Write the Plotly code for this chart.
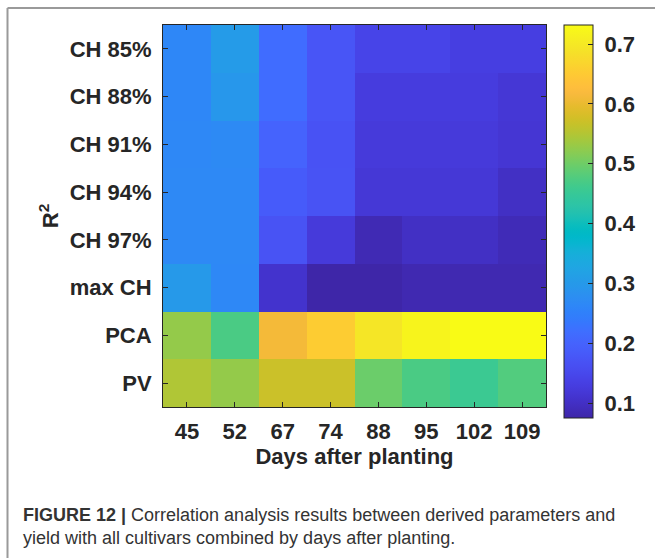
import plotly.graph_objects as go

days = ["45", "52", "67", "74", "88", "95", "102", "109"]
params = ["CH 85%", "CH 88%", "CH 91%", "CH 94%", "CH 97%", "max CH", "PCA", "PV"]

ch85 = [0.263, 0.305, 0.216, 0.174, 0.143, 0.143, 0.132, 0.132]
ch88 = [0.263, 0.294, 0.216, 0.174, 0.127, 0.127, 0.127, 0.117]
ch91 = [0.265, 0.270, 0.200, 0.168, 0.122, 0.122, 0.122, 0.115]
ch94 = [0.267, 0.267, 0.185, 0.170, 0.118, 0.118, 0.118, 0.100]
ch97 = [0.267, 0.267, 0.170, 0.122, 0.085, 0.100, 0.100, 0.088]
maxch = [0.300, 0.265, 0.108, 0.075, 0.075, 0.083, 0.083, 0.083]
pca = [0.527, 0.471, 0.612, 0.653, 0.695, 0.720, 0.732, 0.732]
pv = [0.548, 0.527, 0.570, 0.570, 0.497, 0.471, 0.456, 0.478]

z = [ch85, ch88, ch91, ch94, ch97, maxch, pca, pv]

colorbar_ticks = [0.1, 0.2, 0.3, 0.4, 0.5, 0.6, 0.7]

parula = [
    (0.2422, 0.1504, 0.6603), (0.2504, 0.1650, 0.7076), (0.2578, 0.1818, 0.7511),
    (0.2647, 0.1978, 0.7952), (0.2706, 0.2147, 0.8364), (0.2751, 0.2342, 0.8710),
    (0.2783, 0.2559, 0.8991), (0.2803, 0.2782, 0.9221), (0.2813, 0.3006, 0.9414),
    (0.2810, 0.3228, 0.9579), (0.2795, 0.3447, 0.9717), (0.2760, 0.3667, 0.9829),
    (0.2699, 0.3892, 0.9906), (0.2602, 0.4123, 0.9952), (0.2440, 0.4358, 0.9988),
    (0.2206, 0.4603, 0.9973), (0.1963, 0.4847, 0.9892), (0.1834, 0.5074, 0.9798),
    (0.1786, 0.5289, 0.9682), (0.1764, 0.5499, 0.9520), (0.1687, 0.5703, 0.9359),
    (0.1540, 0.5902, 0.9218), (0.1460, 0.6091, 0.9079), (0.1380, 0.6276, 0.8973),
    (0.1248, 0.6459, 0.8883), (0.1113, 0.6635, 0.8763), (0.0952, 0.6798, 0.8598),
    (0.0689, 0.6948, 0.8394), (0.0297, 0.7082, 0.8163), (0.0036, 0.7203, 0.7917),
    (0.0067, 0.7312, 0.7660), (0.0433, 0.7411, 0.7394), (0.0964, 0.7500, 0.7120),
    (0.1408, 0.7584, 0.6842), (0.1717, 0.7670, 0.6554), (0.1938, 0.7758, 0.6251),
    (0.2161, 0.7843, 0.5923), (0.2470, 0.7918, 0.5567), (0.2906, 0.7973, 0.5188),
    (0.3406, 0.8008, 0.4789), (0.3909, 0.8029, 0.4354), (0.4456, 0.8024, 0.3909),
    (0.5044, 0.7993, 0.3480), (0.5616, 0.7942, 0.3045), (0.6174, 0.7876, 0.2612),
    (0.6720, 0.7793, 0.2227), (0.7242, 0.7698, 0.1910), (0.7738, 0.7598, 0.1646),
    (0.8203, 0.7498, 0.1535), (0.8634, 0.7406, 0.1596), (0.9035, 0.7330, 0.1774),
    (0.9393, 0.7288, 0.2100), (0.9728, 0.7298, 0.2394), (0.9956, 0.7434, 0.2371),
    (0.9970, 0.7659, 0.2199), (0.9952, 0.7893, 0.2028), (0.9892, 0.8136, 0.1885),
    (0.9786, 0.8386, 0.1766), (0.9676, 0.8639, 0.1643), (0.9610, 0.8890, 0.1537),
    (0.9597, 0.9135, 0.1423), (0.9628, 0.9373, 0.1265), (0.9691, 0.9606, 0.1064),
    (0.9769, 0.9839, 0.0805),
]
n = len(parula)
colorscale = [
    [i / (n - 1), "rgb(%d,%d,%d)" % (round(r * 255), round(g * 255), round(b * 255))]
    for i, (r, g, b) in enumerate(parula)
]

W, H = 655, 558
L, R, T, B = 163, 546, 25, 407
pw, ph = R - L, B - T

def px(x):
    return (x - L) / pw

def py(y):
    return (B - y) / ph

dark = "#262626"
bold_font = dict(family="Liberation Sans, Arial, sans-serif", size=22, color=dark, weight="bold")

fig = go.Figure(
    go.Heatmap(
        z=z, x=days, y=params,
        colorscale=colorscale, zmin=0.075, zmax=0.732,
        colorbar=dict(
            tickvals=colorbar_ticks,
            ticktext=["\u00a0%.1f" % v for v in colorbar_ticks],
            ticks="inside", ticklen=5, tickcolor=dark, tickwidth=1,
            tickfont=bold_font,
            outlinecolor=dark, outlinewidth=1,
            thickness=29, thicknessmode="pixels",
            len=393, lenmode="pixels",
            x=px(564), xanchor="left", xpad=0,
            y=1, yanchor="top", ypad=0,
        ),
        hoverinfo="skip",
    )
)

fig.update_layout(
    width=W, height=H,
    margin=dict(l=L, r=W - R, t=T, b=H - B, autoexpand=False),
    paper_bgcolor="white", plot_bgcolor="white",
    font=dict(family="Liberation Sans, Arial, sans-serif", color=dark),
    xaxis=dict(
        type="category", tickfont=bold_font,
        showline=True, linecolor=dark, linewidth=1, mirror="ticks",
        ticks="inside", ticklen=5, tickcolor=dark,
        ticklabelstandoff=5,
        title=dict(text="Days after planting", font=bold_font, standoff=4),
        showgrid=False, zeroline=False, automargin=False,
    ),
    yaxis=dict(
        type="category", autorange="reversed", tickfont=bold_font,
        showline=True, linecolor=dark, linewidth=1, mirror="ticks",
        ticks="inside", ticklen=5, tickcolor=dark,
        ticklabelstandoff=6,
        title=dict(text="R<sup>2</sup>", font=bold_font, standoff=4),
        showgrid=False, zeroline=False, automargin=False,
    ),
    shapes=[
        dict(type="line", xref="paper", yref="paper", x0=px(7.5), x1=px(660), y0=py(8), y1=py(8),
             line=dict(color="#9a9a9a", width=2)),
        dict(type="line", xref="paper", yref="paper", x0=px(7.5), x1=px(7.5), y0=py(8), y1=py(565),
             line=dict(color="#9a9a9a", width=2)),
    ],
    annotations=[
        dict(
            text="<b>FIGURE 12 |</b> Correlation analysis results between derived parameters and<br>"
                 "yield with all cultivars combined by days after planting.",
            xref="paper", yref="paper", x=px(21), y=py(503), xanchor="left", yanchor="top",
            align="left", showarrow=False,
            font=dict(family="Liberation Sans, Arial, sans-serif", size=18, color="#333333"),
        )
    ],
)

fig.write_html(
    "out.html",
    config={"displayModeBar": False},
    post_script="document.body.style.margin='0';document.body.style.padding='0';",
)
